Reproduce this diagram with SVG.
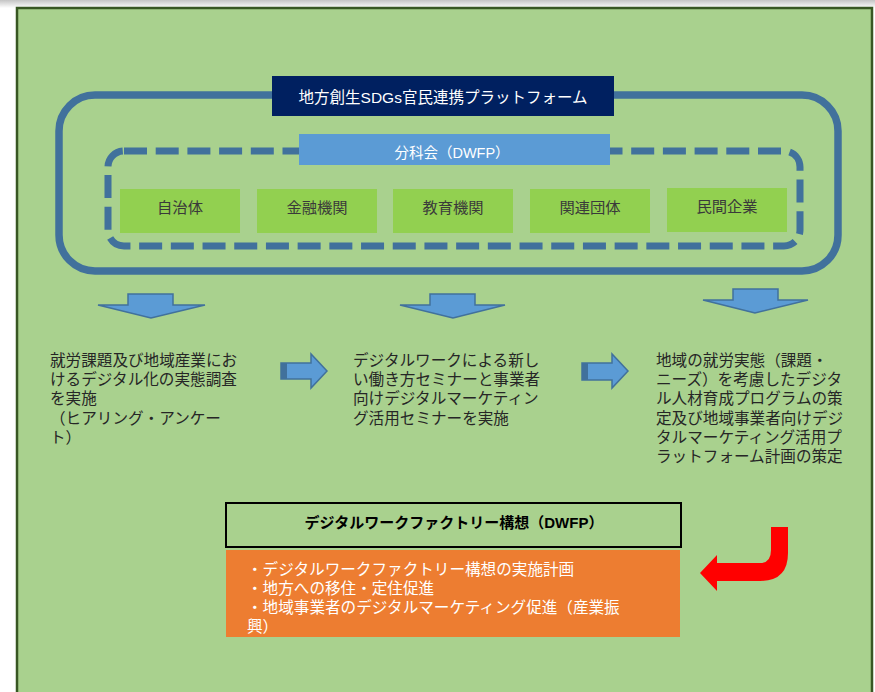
<svg xmlns="http://www.w3.org/2000/svg" width="875" height="692" viewBox="0 0 875 692">
  <defs>
    <linearGradient id="topShade" x1="0" y1="0" x2="0" y2="1">
      <stop offset="0" stop-color="#c4c4c4"/>
      <stop offset="1" stop-color="#ffffff"/>
    </linearGradient>
    <style>
      .jp { font-family: "Liberation Sans", "Noto Sans CJK JP", sans-serif; }
      .body { font-size: 15.6px; fill: #262626; }
      .member { fill: #92D050; }
      .memberText { font-size: 15.3px; fill: #3a3a3a; text-anchor: middle; }
      .downArrow { fill: #5B9BD5; stroke: #41719C; stroke-width: 1.5; stroke-linejoin: miter; }
      .rightArrow { fill: #5B9BD5; stroke: #41719C; stroke-width: 1.5; }
    </style>
  </defs>

  <rect x="0" y="0" width="875" height="692" fill="#ffffff"/>
  <rect x="0" y="0" width="875" height="8" fill="url(#topShade)"/>

  <g id="panel">
    <rect x="17" y="8" width="855" height="700" fill="#A9D18E" stroke="#385723" stroke-width="2.5"/>
  </g>

  <g id="platform">
    <rect x="59" y="95" width="779" height="176" rx="36" ry="36" fill="none" stroke="#41719C" stroke-width="7.5"/>
    <rect x="272" y="76" width="342" height="40" fill="#002060"/>
    <text class="jp" x="443" y="103" font-size="15.5" fill="#ffffff" text-anchor="middle">地方創生SDGs官民連携プラットフォーム</text>
  </g>

  <g id="subcommittee">
    <rect x="108" y="151" width="692" height="95" rx="16" ry="16" fill="none" stroke="#41719C" stroke-width="7" stroke-dasharray="23 8.7"/>
    <rect x="299" y="134" width="311" height="31" fill="#5B9BD5"/>
    <text class="jp" x="452" y="158" font-size="14.5" fill="#ffffff" text-anchor="middle">分科会（DWFP）</text>
  </g>

  <g id="member-jichitai">
    <rect class="member" x="120" y="189" width="120" height="44"/>
    <text class="jp memberText" x="180" y="213">自治体</text>
  </g>
  <g id="member-kinyu">
    <rect class="member" x="257" y="189" width="120" height="44"/>
    <text class="jp memberText" x="317" y="213">金融機関</text>
  </g>
  <g id="member-kyoiku">
    <rect class="member" x="393" y="189" width="120" height="44"/>
    <text class="jp memberText" x="453" y="213">教育機関</text>
  </g>
  <g id="member-kanren">
    <rect class="member" x="530" y="189" width="120" height="44"/>
    <text class="jp memberText" x="590" y="213">関連団体</text>
  </g>
  <g id="member-minkan">
    <rect class="member" x="667" y="188" width="120" height="44"/>
    <text class="jp memberText" x="727" y="212">民間企業</text>
  </g>

  <g id="connectors">
    <polygon class="downArrow" points="128,294 173,294 173,305 205,305 151,318 98,305 128,305"/>
    <polygon class="downArrow" points="430,294 475,294 475,305 505,305 453,318 400,305 430,305"/>
    <polygon class="downArrow" points="733,289 778,289 778,300 808,300 755,313 703,300 733,300"/>

    <polygon class="rightArrow" points="281,363 311,363 311,354 327,371 311,388 311,379 281,379"/>
    <rect x="281" y="363" width="6" height="16" fill="#41719C"/>
    <polygon class="rightArrow" points="582,363 612,363 612,354 628,371 612,388 612,380 582,380"/>
    <rect x="582" y="363" width="6" height="17" fill="#41719C"/>

    <path d="M771,527 L788,527 L788,553 Q788,581 760,581 L717,581 L717,591 L700,573 L717,555 L717,563 L760,563 Q771,563 771,550 Z" fill="#FF0000"/>
  </g>

  <g id="step1">
    <text class="jp body" x="50" y="366">
      <tspan x="50" y="366">就労課題及び地域産業にお</tspan>
      <tspan x="50" y="385.2">けるデジタル化の実態調査</tspan>
      <tspan x="50" y="404.4">を実施</tspan>
      <tspan x="50" y="423.6">（ヒアリング・アンケー</tspan>
      <tspan x="50" y="442.8">ト）</tspan>
    </text>
  </g>

  <g id="step2">
    <text class="jp body" x="353" y="366">
      <tspan x="353" y="366">デジタルワークによる新し</tspan>
      <tspan x="353" y="385.2">い働き方セミナーと事業者</tspan>
      <tspan x="353" y="404.4">向けデジタルマーケティン</tspan>
      <tspan x="353" y="423.6">グ活用セミナーを実施</tspan>
    </text>
  </g>

  <g id="step3">
    <text class="jp body" x="656" y="366">
      <tspan x="656" y="366">地域の就労実態（課題・</tspan>
      <tspan x="656" y="385.2">ニーズ）を考慮したデジタ</tspan>
      <tspan x="656" y="404.4">ル人材育成プログラムの策</tspan>
      <tspan x="656" y="423.6">定及び地域事業者向けデジ</tspan>
      <tspan x="656" y="442.8">タルマーケティング活用プ</tspan>
      <tspan x="656" y="462">ラットフォーム計画の策定</tspan>
    </text>
  </g>

  <g id="dwfp-title">
    <rect x="226" y="503" width="455" height="44" fill="#A9D18E" stroke="#000000" stroke-width="2"/>
    <text class="jp" x="454" y="528" font-size="15" font-weight="bold" fill="#000000" text-anchor="middle">デジタルワークファクトリー構想（DWFP）</text>
  </g>

  <g id="dwfp-content">
    <rect x="226" y="550" width="454" height="87" fill="#ED7D31"/>
    <text class="jp" font-size="15.6" fill="#ffffff">
      <tspan x="247" y="575">・デジタルワークファクトリー構想の実施計画</tspan>
      <tspan x="247" y="594">・地方への移住・定住促進</tspan>
      <tspan x="247" y="613">・地域事業者のデジタルマーケティング促進（産業振</tspan>
      <tspan x="247" y="632">興）</tspan>
    </text>
  </g>
</svg>
